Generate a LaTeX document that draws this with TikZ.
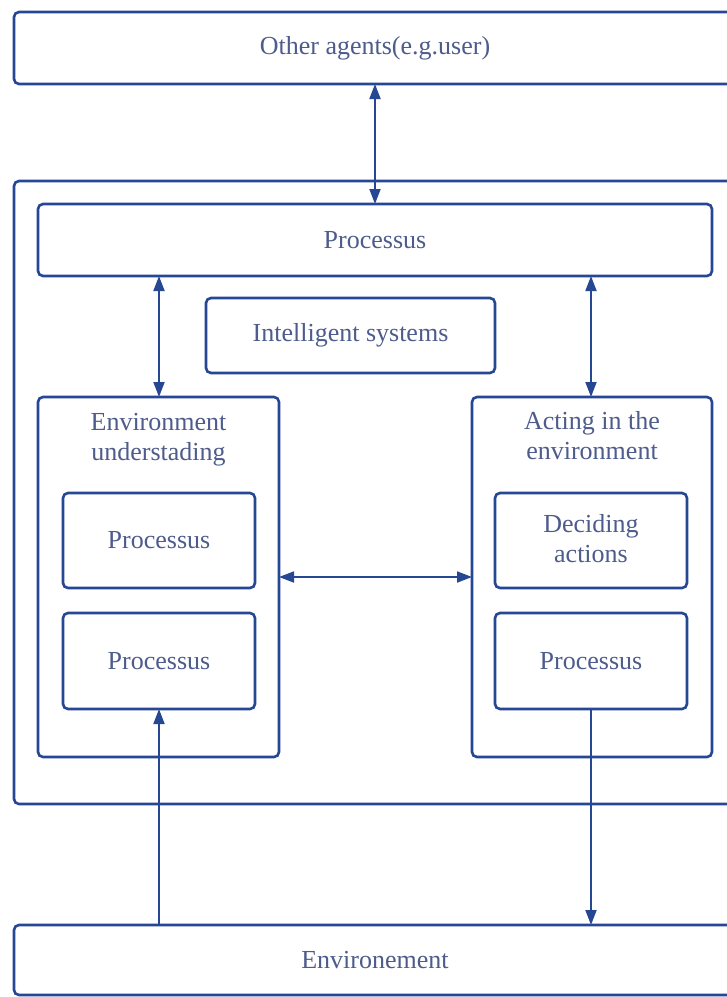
\documentclass[tikz,border=0pt]{standalone}
\usepackage{fontspec}
\setmainfont{Liberation Serif}
\usetikzlibrary{arrows.meta}
\definecolor{linecol}{RGB}{38,72,148}
\definecolor{textcol}{RGB}{78,92,140}

\begin{document}
\begin{tikzpicture}[x=1pt,y=-1pt,
  box/.style={draw=linecol, line width=2.6pt, rounded corners=5pt, fill=white,
              inner sep=0pt, outer sep=0pt, anchor=north west},
  lbl/.style={text=textcol, font=\fontsize{26}{30}\selectfont, align=center, inner sep=0pt},
  link/.style={draw=linecol, line width=1.8pt, {Triangle[length=15pt,width=11pt]}-{Triangle[length=15pt,width=11pt]}},
  oneway/.style={draw=linecol, line width=1.8pt, -{Triangle[length=15pt,width=11pt]}}]

  \clip (0,0) rectangle (727,997);
  \fill[white] (0,0) rectangle (727,997);

  % outer frames (running past the right edge)
  \node[box, minimum width=722pt, minimum height=72pt] (agents) at (14,12) {};
  \node[lbl] (agentsT) at (375,48) {Other agents(e.g.user)};

  \node[box, minimum width=722pt, minimum height=623pt] (sys) at (14,181) {};

  \node[box, minimum width=722pt, minimum height=70pt] (env) at (14,925) {};
  \node[lbl] (envT) at (375,960) {Environement};

  % inside the intelligent system
  \node[box, minimum width=674pt, minimum height=72pt] (proc) at (38,204) {};
  \node[lbl] (procT) at (375,240) {Processus};

  \node[box, minimum width=289pt, minimum height=75pt] (intel) at (206,298) {};
  \node[lbl] (intelT) at (350.5,335.5) {Intelligent systems};

  \node[box, minimum width=241pt, minimum height=360pt] (und) at (38,397) {};
  \node[lbl] (undT) at (158.5,439) {\strut Environment\\\strut understading};

  \node[box, minimum width=240pt, minimum height=360pt] (act) at (472,397) {};
  \node[lbl] (actT) at (592,438) {\strut Acting in the\\\strut environment};

  \node[box, minimum width=192pt, minimum height=95pt] (lp1) at (63,493) {};
  \node[lbl] (lp1T) at (159,540.5) {Processus};
  \node[box, minimum width=192pt, minimum height=96pt] (lp2) at (63,613) {};
  \node[lbl] (lp2T) at (159,661) {Processus};

  \node[box, minimum width=192pt, minimum height=95pt] (rp1) at (495,493) {};
  \node[lbl] (rp1T) at (591,541) {\strut Deciding\\\strut actions};
  \node[box, minimum width=192pt, minimum height=96pt] (rp2) at (495,613) {};
  \node[lbl] (rp2T) at (591,661) {Processus};

  % connectors
  \draw[link] (agents.south -| procT) -- (proc.north -| procT);
  \draw[link] (proc.south -| lp1.south) -- (und.north -| lp1.south);
  \draw[link] (proc.south -| rp1.south) -- (act.north -| rp1.south);
  \draw[link] (und.east) -- (act.west);
  \draw[oneway] (env.north -| lp2.south) -- (lp2.south);
  \draw[oneway] (rp2.south) -- (env.north -| rp2.south);
\end{tikzpicture}
\end{document}
